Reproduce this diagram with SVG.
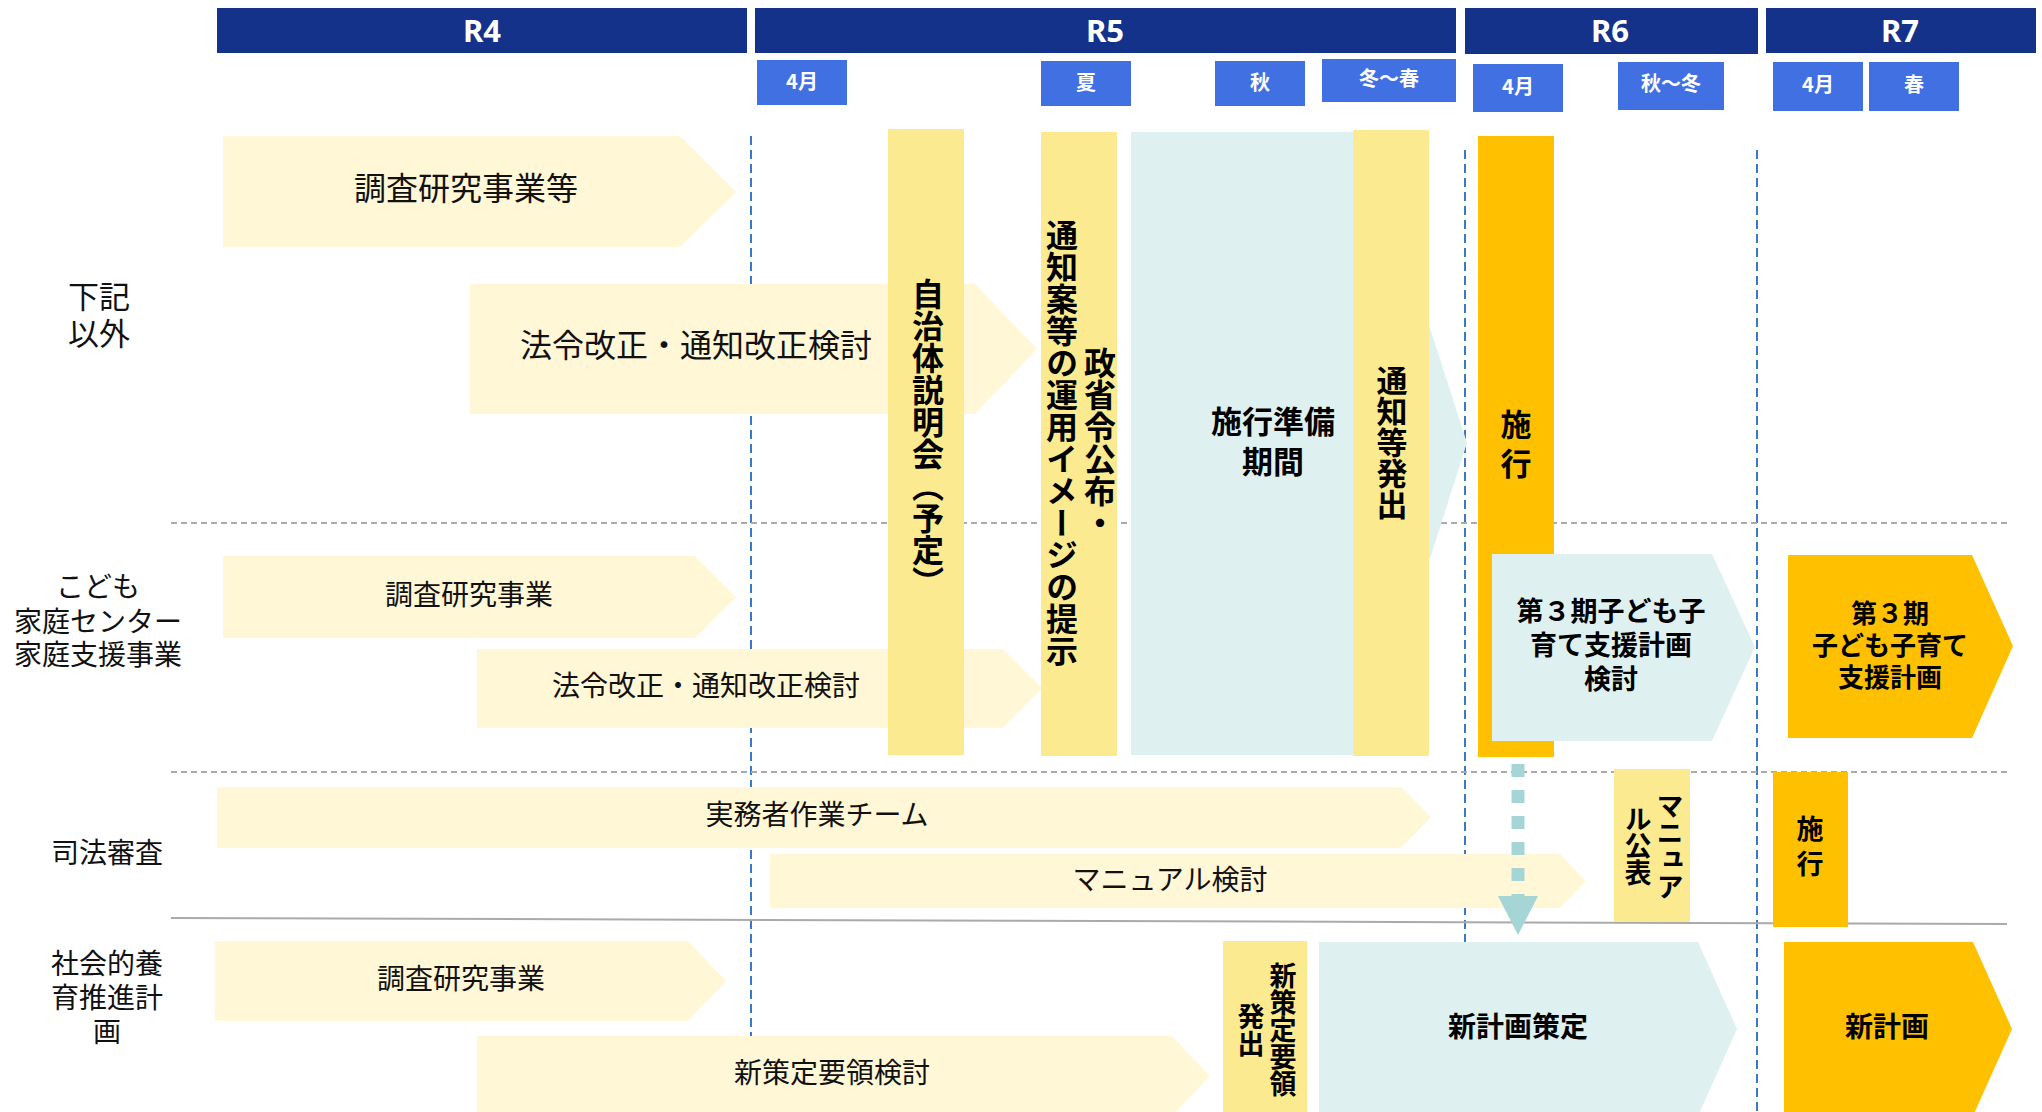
<svg xmlns="http://www.w3.org/2000/svg" width="2042" height="1112" viewBox="0 0 2042 1112">
<style>
.hdr{fill:#14328A}
.hdrt{font-family:"Noto Sans","Noto Sans CJK JP",sans-serif;font-weight:700;font-size:31px;fill:#fff;text-anchor:middle;dominant-baseline:central}
.mon{fill:#4170E3}
.mont{font-family:"Noto Sans CJK JP",sans-serif;font-weight:700;font-size:20px;fill:#fff;text-anchor:middle;dominant-baseline:central}
.lab{font-family:"Noto Sans CJK JP",sans-serif;font-size:28px;fill:#111;text-anchor:middle;dominant-baseline:central}
.cream{fill:#FFF7D6}
.yel{fill:#FCEA91}
.cyan{fill:#DFF0F0}
.org{fill:#FFC000}
.t{font-family:"Noto Sans CJK JP",sans-serif;font-size:28px;fill:#111;text-anchor:middle;dominant-baseline:central}
.tb{font-family:"Noto Sans CJK JP",sans-serif;font-weight:700;font-size:28px;fill:#000;text-anchor:middle;dominant-baseline:central}
.v{writing-mode:vertical-rl;text-orientation:mixed}
.vl{fill:none;stroke:#3C78C8;stroke-width:2;stroke-dasharray:9 5}
.gl{fill:none;stroke:#AAAAAA;stroke-width:2;stroke-dasharray:6 4}
.sl{fill:none;stroke:#AAAAAA;stroke-width:2}
</style>
<defs>
<marker id="ah" markerUnits="userSpaceOnUse" markerWidth="40" markerHeight="40" viewBox="0 0 40 40" refX="0" refY="20" orient="auto">
<path d="M0,0 L39,20 L0,40 z" fill="#A5D5D5"/>
</marker>
</defs>
<rect width="2042" height="1112" fill="#fff"/>

<g id="grid">
<line class="vl" x1="751" y1="136" x2="751" y2="1112"/>
<line class="vl" x1="1465" y1="150" x2="1465" y2="1112"/>
<line class="vl" x1="1757" y1="150" x2="1757" y2="1112"/>
<line class="gl" x1="171" y1="523" x2="2007" y2="523"/>
<line class="gl" x1="171" y1="772" x2="2007" y2="772"/>
<line class="sl" x1="171" y1="918" x2="2007" y2="924"/>
</g>

<g id="header">
<g id="hdr-r4"><rect class="hdr" x="217" y="8" width="530" height="45"/><text class="hdrt" x="482" y="30">R4</text></g>
<g id="hdr-r5"><rect class="hdr" x="755" y="8" width="701" height="45"/><text class="hdrt" x="1105" y="30">R5</text></g>
<g id="hdr-r6"><rect class="hdr" x="1465" y="8" width="293" height="46"/><text class="hdrt" x="1610" y="30">R6</text></g>
<g id="hdr-r7"><rect class="hdr" x="1766" y="8" width="270" height="45"/><text class="hdrt" x="1900" y="30">R7</text></g>
</g>

<g id="months">
<g id="m-r5-apr"><rect class="mon" x="757" y="60" width="90" height="45"/><text class="mont" x="802" y="80">4月</text></g>
<g id="m-summer"><rect class="mon" x="1041" y="61" width="90" height="45"/><text class="mont" x="1086" y="81">夏</text></g>
<g id="m-autumn"><rect class="mon" x="1215" y="61" width="90" height="45"/><text class="mont" x="1260" y="81">秋</text></g>
<g id="m-winter"><rect class="mon" x="1322" y="59" width="134" height="43"/><text class="mont" x="1389" y="77">冬～春</text></g>
<g id="m-r6-apr"><rect class="mon" x="1473" y="64" width="90" height="48"/><text class="mont" x="1518" y="85">4月</text></g>
<g id="m-r6-aw"><rect class="mon" x="1618" y="62" width="106" height="48"/><text class="mont" x="1671" y="82">秋～冬</text></g>
<g id="m-r7-apr"><rect class="mon" x="1773" y="62" width="90" height="49"/><text class="mont" x="1818" y="83">4月</text></g>
<g id="m-r7-spr"><rect class="mon" x="1869" y="62" width="90" height="49"/><text class="mont" x="1914" y="83">春</text></g>
</g>

<g id="labels">
<g id="lab-other"><text class="lab" style="font-size:31px"><tspan x="99" y="294">下記</tspan><tspan x="99" y="331">以外</tspan></text></g>
<g id="lab-kodomo"><text class="lab"><tspan x="98" y="585">こども</tspan><tspan x="98" y="620">家庭センター</tspan><tspan x="98" y="653">家庭支援事業</tspan></text></g>
<g id="lab-shiho"><text class="lab" x="107" y="851">司法審査</text></g>
<g id="lab-shakai"><text class="lab"><tspan x="107" y="962">社会的養</tspan><tspan x="107" y="996">育推進計</tspan><tspan x="107" y="1030">画</tspan></text></g>
</g>

<g id="n-chosa1"><polygon class="cream" points="223,136 680,136 736,192 680,247 223,247"/><text class="t" style="font-size:32px" x="466" y="186">調査研究事業等</text></g>
<g id="n-horei1"><polygon class="cream" points="470,284 975,284 1037,349 975,414 470,414"/><text class="t" style="font-size:32px" x="696" y="343">法令改正・通知改正検討</text></g>
<g id="n-chosa2"><polygon class="cream" points="223,556 695,556 736,597 695,638 223,638"/><text class="t" x="469" y="593">調査研究事業</text></g>
<g id="n-horei2"><polygon class="cream" points="477,649 1003,649 1042,688 1003,728 477,728"/><text class="t" x="706" y="684">法令改正・通知改正検討</text></g>

<g id="n-jichitai"><rect class="yel" x="888" y="129" width="76" height="626"/><text class="tb v" style="font-size:32px" x="928" y="438">自治体説明会（予定）</text></g>
<g id="n-seishorei"><rect class="yel" x="1041" y="132" width="76" height="624"/><text class="tb v" style="font-size:32px" x="1100" y="443">政省令公布・</text><text class="tb v" style="font-size:32px" x="1062" y="443">通知案等の運用イメージの提示</text></g>
<g id="n-junbi"><polygon class="cyan" points="1131,132 1367,132 1467,443 1367,755 1131,755"/><text class="tb" style="font-size:31px"><tspan x="1273" y="419">施行準備</tspan><tspan x="1273" y="459">期間</tspan></text></g>
<g id="n-tsuchi"><rect class="yel" x="1353" y="130" width="76" height="626"/><text class="tb v" style="font-size:31px" x="1392" y="442">通知等発出</text></g>
<g id="n-shiko1"><rect class="org" x="1478" y="136" width="76" height="621"/><text class="tb" style="font-size:31px"><tspan x="1516" y="422">施</tspan><tspan x="1516" y="461">行</tspan></text></g>
<g id="n-dai3kento"><polygon class="cyan" points="1492,554 1712,554 1755,647 1712,741 1492,741"/><text class="tb" style="font-size:27px"><tspan x="1611" y="609">第３期子ども子</tspan><tspan x="1611" y="643">育て支援計画</tspan><tspan x="1611" y="677">検討</tspan></text></g>
<g id="n-dai3"><polygon class="org" points="1788,555 1972,555 2013,646 1972,738 1788,738"/><text class="tb" style="font-size:26px"><tspan x="1890" y="611">第３期</tspan><tspan x="1890" y="643">子ども子育て</tspan><tspan x="1890" y="675">支援計画</tspan></text></g>

<g id="n-jitsumu"><polygon class="cream" points="217,787 1401,787 1431,817 1401,848 217,848"/><text class="t" x="817" y="813">実務者作業チーム</text></g>
<g id="n-manual"><polygon class="cream" points="770,854 1560,854 1586,881 1560,908 770,908"/><text class="t" x="1170" y="878">マニュアル検討</text></g>
<g id="n-manualpub"><rect class="yel" x="1614" y="769" width="76" height="153"/><text class="tb v" style="font-size:27px" x="1670" y="846">マニュア</text><text class="tb v" style="font-size:27px" x="1638" y="846">ル公表</text></g>
<g id="n-shiko2"><rect class="org" x="1773" y="772" width="75" height="155"/><text class="tb" style="font-size:27px"><tspan x="1810" y="827">施</tspan><tspan x="1810" y="862">行</tspan></text></g>

<g id="n-chosa4"><polygon class="cream" points="215,941 688,941 726,981 688,1021 215,1021"/><text class="t" x="461" y="977">調査研究事業</text></g>
<g id="n-shinsakutei"><polygon class="cream" points="477,1036 1172,1036 1210,1076 1172,1116 477,1116"/><text class="t" x="832" y="1071">新策定要領検討</text></g>
<g id="n-yoryo"><rect class="yel" x="1223" y="941" width="84" height="171"/><text class="tb v" style="font-size:27px" x="1283" y="1030">新策定要領</text><text class="tb v" style="font-size:27px" x="1251" y="1030">発出</text></g>
<g id="n-keikaku"><polygon class="cyan" points="1319,942 1698,942 1737,1029 1698,1116 1319,1116"/><text class="tb" x="1518" y="1025">新計画策定</text></g>
<g id="n-shinkeikaku"><polygon class="org" points="1784,942 1973,942 2012,1029 1973,1116 1784,1116"/><text class="tb" x="1887" y="1025">新計画</text></g>

<g id="connectors">
<line x1="1518" y1="764" x2="1518" y2="896" stroke="#A5D5D5" stroke-width="13" stroke-dasharray="13 13" marker-end="url(#ah)"/>
</g>
</svg>
